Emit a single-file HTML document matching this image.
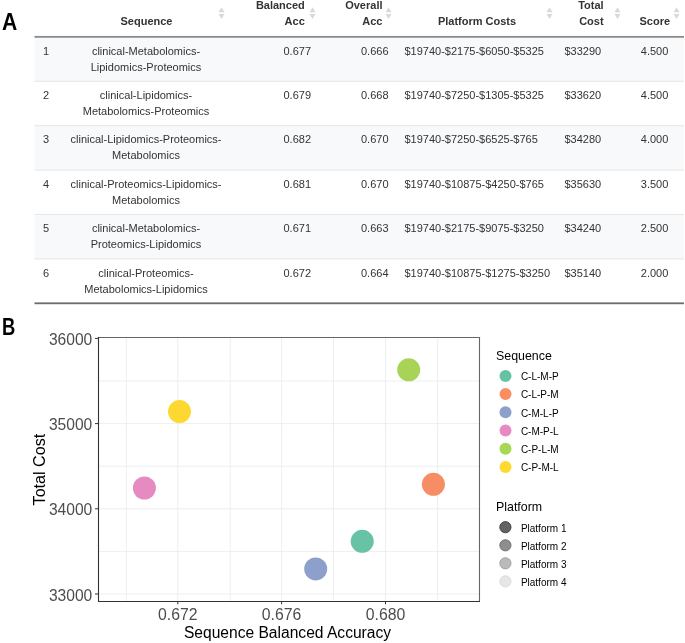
<!DOCTYPE html>
<html><head><meta charset="utf-8"><title>Figure</title>
<style>
html,body{margin:0;padding:0;background:#fff;}
body{width:685px;height:643px;position:relative;overflow:hidden;font-family:"Liberation Sans",sans-serif;color:#333;}
.lab{position:absolute;font-weight:bold;font-size:23px;line-height:23px;color:#000;transform-origin:0 0;}
.t{position:absolute;font-size:11px;line-height:15.5px;white-space:nowrap;color:#333;}
.h{position:absolute;font-size:11px;line-height:15.5px;white-space:nowrap;font-weight:bold;color:#333;}
.c{text-align:center;transform:translateX(-50%);}
.r{text-align:right;transform:translateX(-100%);}
.row{position:absolute;left:34.5px;width:649.5px;}
.si{position:absolute;width:7px;height:14px;}
svg{position:absolute;left:0;top:0;}
</style></head><body>

<div class="lab" style="left:1.6px;top:10.5px;transform:scaleX(0.92)">A</div>
<div class="lab" style="left:1.9px;top:316.3px;transform:scaleX(0.8)">B</div>
<div class="h c" style="left:146.5px;top:14.2px">Sequence</div>
<div class="h r" style="left:304.8px;top:-2px">Balanced<br>Acc</div>
<div class="h r" style="left:382.5px;top:-2px">Overall<br>Acc</div>
<div class="h c" style="left:477px;top:14px">Platform Costs</div>
<div class="h r" style="left:603.6px;top:-2px">Total<br>Cost</div>
<div class="h" style="left:639.5px;top:13.8px">Score</div>
<svg class="si" style="left:218.2px;top:6.199999999999999px" width="7" height="14" viewBox="0 0 7 14"><path d="M3.5 1.3 L6.5 6.3 L0.5 6.3 Z M3.5 12.9 L6.5 7.9 L0.5 7.9 Z" fill="#d9d9d9"/></svg>
<svg class="si" style="left:308.5px;top:6.199999999999999px" width="7" height="14" viewBox="0 0 7 14"><path d="M3.5 1.3 L6.5 6.3 L0.5 6.3 Z M3.5 12.9 L6.5 7.9 L0.5 7.9 Z" fill="#d9d9d9"/></svg>
<svg class="si" style="left:385.2px;top:6.199999999999999px" width="7" height="14" viewBox="0 0 7 14"><path d="M3.5 1.3 L6.5 6.3 L0.5 6.3 Z M3.5 12.9 L6.5 7.9 L0.5 7.9 Z" fill="#d9d9d9"/></svg>
<svg class="si" style="left:546.2px;top:6.199999999999999px" width="7" height="14" viewBox="0 0 7 14"><path d="M3.5 1.3 L6.5 6.3 L0.5 6.3 Z M3.5 12.9 L6.5 7.9 L0.5 7.9 Z" fill="#d9d9d9"/></svg>
<svg class="si" style="left:614.2px;top:6.199999999999999px" width="7" height="14" viewBox="0 0 7 14"><path d="M3.5 1.3 L6.5 6.3 L0.5 6.3 Z M3.5 12.9 L6.5 7.9 L0.5 7.9 Z" fill="#d9d9d9"/></svg>
<svg class="si" style="left:673.2px;top:6.199999999999999px" width="7" height="14" viewBox="0 0 7 14"><path d="M3.5 1.3 L6.5 6.3 L0.5 6.3 Z M3.5 12.9 L6.5 7.9 L0.5 7.9 Z" fill="#d9d9d9"/></svg>
<svg width="685" height="320" viewBox="0 0 685 320">
<rect x="34.5" y="36.90" width="649.5" height="44.4" fill="#f8f9fb"/>
<rect x="34.5" y="81.30" width="649.5" height="44.4" fill="#fff"/>
<rect x="34.5" y="125.70" width="649.5" height="44.4" fill="#f8f9fb"/>
<rect x="34.5" y="170.10" width="649.5" height="44.4" fill="#fff"/>
<rect x="34.5" y="214.50" width="649.5" height="44.4" fill="#f8f9fb"/>
<rect x="34.5" y="258.90" width="649.5" height="44.4" fill="#fff"/>
<rect x="34.5" y="80.75" width="649.5" height="1.1" fill="#e6e7e8"/>
<rect x="34.5" y="125.15" width="649.5" height="1.1" fill="#e6e7e8"/>
<rect x="34.5" y="169.55" width="649.5" height="1.1" fill="#e6e7e8"/>
<rect x="34.5" y="213.95" width="649.5" height="1.1" fill="#e6e7e8"/>
<rect x="34.5" y="258.35" width="649.5" height="1.1" fill="#e6e7e8"/>
<rect x="34.5" y="35.95" width="649.5" height="1.8" fill="#8a8a8a"/>
<rect x="34.5" y="302.40" width="649.5" height="1.8" fill="#6c6c6c"/>
</svg>
<div class="t" style="left:43px;top:44.0px">1</div>
<div class="t c" style="left:146px;top:44.0px">clinical-Metabolomics-<br>Lipidomics-Proteomics</div>
<div class="t" style="left:283.5px;top:44.0px">0.677</div>
<div class="t" style="left:361px;top:44.0px">0.666</div>
<div class="t" style="left:404.5px;top:44.0px">$19740-$2175-$6050-$5325</div>
<div class="t" style="left:564.5px;top:44.0px">$33290</div>
<div class="t" style="left:640.8px;top:44.0px">4.500</div>
<div class="t" style="left:43px;top:88.0px">2</div>
<div class="t c" style="left:146px;top:88.0px">clinical-Lipidomics-<br>Metabolomics-Proteomics</div>
<div class="t" style="left:283.5px;top:88.0px">0.679</div>
<div class="t" style="left:361px;top:88.0px">0.668</div>
<div class="t" style="left:404.5px;top:88.0px">$19740-$7250-$1305-$5325</div>
<div class="t" style="left:564.5px;top:88.0px">$33620</div>
<div class="t" style="left:640.8px;top:88.0px">4.500</div>
<div class="t" style="left:43px;top:132.0px">3</div>
<div class="t c" style="left:146px;top:132.0px">clinical-Lipidomics-Proteomics-<br>Metabolomics</div>
<div class="t" style="left:283.5px;top:132.0px">0.682</div>
<div class="t" style="left:361px;top:132.0px">0.670</div>
<div class="t" style="left:404.5px;top:132.0px">$19740-$7250-$6525-$765</div>
<div class="t" style="left:564.5px;top:132.0px">$34280</div>
<div class="t" style="left:640.8px;top:132.0px">4.000</div>
<div class="t" style="left:43px;top:177.0px">4</div>
<div class="t c" style="left:146px;top:177.0px">clinical-Proteomics-Lipidomics-<br>Metabolomics</div>
<div class="t" style="left:283.5px;top:177.0px">0.681</div>
<div class="t" style="left:361px;top:177.0px">0.670</div>
<div class="t" style="left:404.5px;top:177.0px">$19740-$10875-$4250-$765</div>
<div class="t" style="left:564.5px;top:177.0px">$35630</div>
<div class="t" style="left:640.8px;top:177.0px">3.500</div>
<div class="t" style="left:43px;top:221.0px">5</div>
<div class="t c" style="left:146px;top:221.0px">clinical-Metabolomics-<br>Proteomics-Lipidomics</div>
<div class="t" style="left:283.5px;top:221.0px">0.671</div>
<div class="t" style="left:361px;top:221.0px">0.663</div>
<div class="t" style="left:404.5px;top:221.0px">$19740-$2175-$9075-$3250</div>
<div class="t" style="left:564.5px;top:221.0px">$34240</div>
<div class="t" style="left:640.8px;top:221.0px">2.500</div>
<div class="t" style="left:43px;top:266.0px">6</div>
<div class="t c" style="left:146px;top:266.0px">clinical-Proteomics-<br>Metabolomics-Lipidomics</div>
<div class="t" style="left:283.5px;top:266.0px">0.672</div>
<div class="t" style="left:361px;top:266.0px">0.664</div>
<div class="t" style="left:404.5px;top:266.0px">$19740-$10875-$1275-$3250</div>
<div class="t" style="left:564.5px;top:266.0px">$35140</div>
<div class="t" style="left:640.8px;top:266.0px">2.000</div>
<svg width="685" height="643" viewBox="0 0 685 643" style="pointer-events:none">
<rect x="98.5" y="337.5" width="381.0" height="264.0" fill="#fff"/>
<line x1="126.3" x2="126.3" y1="337.5" y2="601.5" stroke="#eaeced" stroke-width="0.9"/>
<line x1="177.8" x2="177.8" y1="337.5" y2="601.5" stroke="#eaeced" stroke-width="0.9"/>
<line x1="230.2" x2="230.2" y1="337.5" y2="601.5" stroke="#eaeced" stroke-width="0.9"/>
<line x1="281.6" x2="281.6" y1="337.5" y2="601.5" stroke="#eaeced" stroke-width="0.9"/>
<line x1="333.5" x2="333.5" y1="337.5" y2="601.5" stroke="#eaeced" stroke-width="0.9"/>
<line x1="385.5" x2="385.5" y1="337.5" y2="601.5" stroke="#eaeced" stroke-width="0.9"/>
<line x1="437.7" x2="437.7" y1="337.5" y2="601.5" stroke="#eaeced" stroke-width="0.9"/>
<line x1="98.5" x2="479.5" y1="594.0" y2="594.0" stroke="#eaeced" stroke-width="0.9"/>
<line x1="98.5" x2="479.5" y1="551.4" y2="551.4" stroke="#eaeced" stroke-width="0.9"/>
<line x1="98.5" x2="479.5" y1="508.8" y2="508.8" stroke="#eaeced" stroke-width="0.9"/>
<line x1="98.5" x2="479.5" y1="466.2" y2="466.2" stroke="#eaeced" stroke-width="0.9"/>
<line x1="98.5" x2="479.5" y1="423.6" y2="423.6" stroke="#eaeced" stroke-width="0.9"/>
<line x1="98.5" x2="479.5" y1="381.0" y2="381.0" stroke="#eaeced" stroke-width="0.9"/>
<circle cx="179.5" cy="411.6" r="11.5" fill="#FDD830"/>
<circle cx="144.4" cy="488.0" r="11.5" fill="#E58BC1"/>
<circle cx="315.7" cy="568.9" r="11.5" fill="#8DA0CB"/>
<circle cx="362.2" cy="541.3" r="11.5" fill="#68C3A6"/>
<circle cx="433.4" cy="484.3" r="11.5" fill="#F78D65"/>
<circle cx="408.7" cy="369.8" r="11.5" fill="#A7D457"/>
<path d="M98.5 337.5 H479.5 V601.5" fill="none" stroke="#666" stroke-width="1.1"/>
<path d="M98.5 337.0 V601.5 H480.0" fill="none" stroke="#333" stroke-width="1.1"/>
<line x1="95.0" x2="98.5" y1="594.0" y2="594.0" stroke="#333" stroke-width="1"/>
<text x="92.3" y="600.5" text-anchor="end" font-size="15.6" fill="#4d4d4d">33000</text>
<line x1="95.0" x2="98.5" y1="508.8" y2="508.8" stroke="#333" stroke-width="1"/>
<text x="92.3" y="515.3" text-anchor="end" font-size="15.6" fill="#4d4d4d">34000</text>
<line x1="95.0" x2="98.5" y1="423.6" y2="423.6" stroke="#333" stroke-width="1"/>
<text x="92.3" y="430.1" text-anchor="end" font-size="15.6" fill="#4d4d4d">35000</text>
<line x1="95.0" x2="98.5" y1="338.4" y2="338.4" stroke="#333" stroke-width="1"/>
<text x="92.3" y="344.9" text-anchor="end" font-size="15.6" fill="#4d4d4d">36000</text>
<line x1="177.8" x2="177.8" y1="601.5" y2="604.3" stroke="#333" stroke-width="1"/>
<text x="177.8" y="620" text-anchor="middle" font-size="15.8" fill="#4d4d4d">0.672</text>
<line x1="281.6" x2="281.6" y1="601.5" y2="604.3" stroke="#333" stroke-width="1"/>
<text x="281.6" y="620" text-anchor="middle" font-size="15.8" fill="#4d4d4d">0.676</text>
<line x1="385.5" x2="385.5" y1="601.5" y2="604.3" stroke="#333" stroke-width="1"/>
<text x="385.5" y="620" text-anchor="middle" font-size="15.8" fill="#4d4d4d">0.680</text>
<text x="287.5" y="637.6" text-anchor="middle" font-size="15.6" fill="#000">Sequence Balanced Accuracy</text>
<text transform="translate(45,469.6) rotate(-90)" text-anchor="middle" font-size="16.1" fill="#000">Total Cost</text>
<text x="496" y="359.8" font-size="12.4" fill="#000">Sequence</text>
<circle cx="505.5" cy="375.9" r="6" fill="#66C2A5"/>
<text x="520.9" y="380.1" font-size="10" fill="#000">C-L-M-P</text>
<circle cx="505.5" cy="394.09999999999997" r="6" fill="#FC8D62"/>
<text x="520.9" y="398.3" font-size="10" fill="#000">C-L-P-M</text>
<circle cx="505.5" cy="412.29999999999995" r="6" fill="#8DA0CB"/>
<text x="520.9" y="416.5" font-size="10" fill="#000">C-M-L-P</text>
<circle cx="505.5" cy="430.5" r="6" fill="#E78AC3"/>
<text x="520.9" y="434.7" font-size="10" fill="#000">C-M-P-L</text>
<circle cx="505.5" cy="448.7" r="6" fill="#A6D854"/>
<text x="520.9" y="452.9" font-size="10" fill="#000">C-P-L-M</text>
<circle cx="505.5" cy="466.9" r="6" fill="#FFD92F"/>
<text x="520.9" y="471.1" font-size="10" fill="#000">C-P-M-L</text>
<text x="496" y="510.5" font-size="12.4" fill="#000">Platform</text>
<circle cx="505.4" cy="527.2" r="5.6" fill="#636363" stroke="#3c3c3c" stroke-width="0.9"/>
<text x="520.9" y="531.8" font-size="10" fill="#000">Platform 1</text>
<circle cx="505.4" cy="545.3" r="5.6" fill="#8e8e8e" stroke="#6a6a6a" stroke-width="0.9"/>
<text x="520.9" y="549.9" font-size="10" fill="#000">Platform 2</text>
<circle cx="505.4" cy="563.3" r="5.6" fill="#bababa" stroke="#9c9c9c" stroke-width="0.9"/>
<text x="520.9" y="567.9" font-size="10" fill="#000">Platform 3</text>
<circle cx="505.4" cy="581.4" r="5.6" fill="#e6e6e6" stroke="#d8d8d8" stroke-width="0.9"/>
<text x="520.9" y="586.0" font-size="10" fill="#000">Platform 4</text>
</svg>
</body></html>
